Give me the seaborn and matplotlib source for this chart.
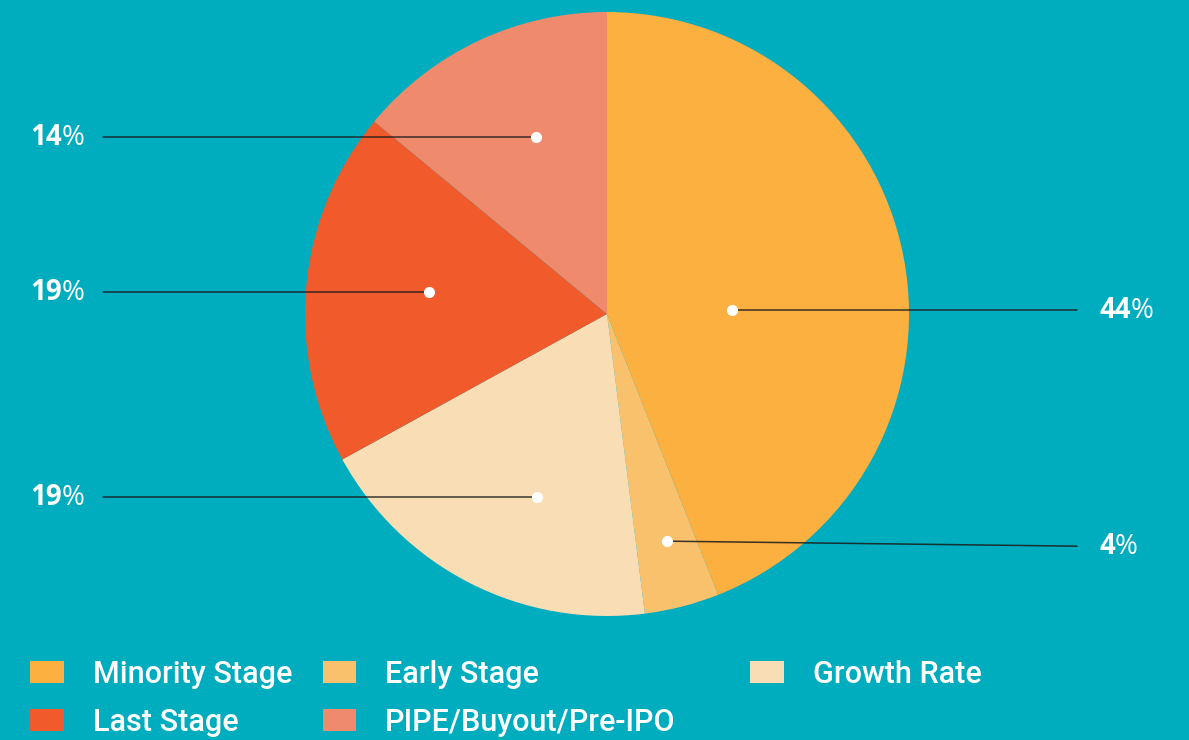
import numpy as np
import matplotlib
matplotlib.use('Agg')
import matplotlib.pyplot as plt
import seaborn as sns
from matplotlib.patches import Patch

# data
stages = ['Minority Stage', 'Early Stage', 'Growth Rate', 'Last Stage', 'PIPE/Buyout/Pre-IPO']
shares = [44, 4, 19, 19, 14]
colors = ['#FBB040', '#F9C16B', '#F9DDB5', '#F15A2B', '#F08A6C']

# where the white dot sits in each slice (angle in degrees, fraction of radius)
dot_angle = [1.8, -75.2, -111, 173, 112]
dot_frac = [0.414, 0.778, 0.65, 0.594, 0.632]
label_dy = [0, -5, 0, 0, 0]

bg = '#00ADBF'

sns.set_theme(style='white')
plt.rcParams['font.family'] = ['Open Sans', 'DejaVu Sans']

fig = plt.figure(figsize=(11.89, 7.40), dpi=100)
fig.patch.set_facecolor(bg)
ax = fig.add_axes([0, 0, 1, 1])
ax.set_facecolor(bg)

cx, cy, R = 607, 426, 302
wedges, _ = ax.pie(shares, colors=colors, startangle=90, counterclock=False,
                   center=(cx, cy), radius=R, frame=True,
                   wedgeprops=dict(linewidth=0))
ax.set_xlim(0, 1189)
ax.set_ylim(0, 740)
ax.axis('off')

for i, v in enumerate(shares):
    a = np.deg2rad(dot_angle[i])
    dx = cx + R * dot_frac[i] * np.cos(a)
    dy = cy + R * dot_frac[i] * np.sin(a)
    ly = dy + label_dy[i]
    if dx > cx:
        lx0, tx = 1077, 1099
    else:
        lx0, tx = 103, 30
    ax.plot([dx, lx0], [dy, ly], color='#1a1a1a', lw=1.1, alpha=0.85, zorder=3)
    ax.plot(dx, dy, 'o', color='white', ms=7, mec='white', zorder=4)
    t = ax.text(tx, ly, str(v), color='white', fontsize=20, fontweight='bold',
                va='center', ha='left')
    ax.annotate('%', xy=(1, 0), xycoords=t, va='bottom', ha='left',
                color='white', fontsize=20)

# legend (two pieces to match the uneven column gaps)
h = [Patch(facecolor=c, edgecolor='none') for c in colors]
leg_kw = dict(frameon=False, labelcolor='white', handlelength=1.1,
              handleheight=0.72, handletextpad=0.95, columnspacing=1.0,
              labelspacing=0.62, borderaxespad=0, borderpad=0,
              prop={'family': 'Roboto', 'size': 22, 'weight': 'medium'})
leg1 = fig.legend([h[0], h[3], h[1], h[4]],
                  [stages[0], stages[3], stages[1], stages[4]],
                  ncol=2, loc='upper left', bbox_to_anchor=(30 / 1189, 1 - 660 / 740),
                  **leg_kw)
leg2 = fig.legend([h[2]], [stages[2]], loc='upper left',
                  bbox_to_anchor=(750 / 1189, 1 - 660 / 740), **leg_kw)

fig.savefig('out.png', dpi=100, facecolor=bg)
